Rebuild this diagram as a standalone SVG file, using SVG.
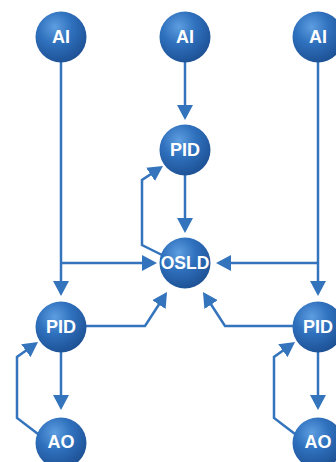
<svg xmlns="http://www.w3.org/2000/svg" width="336" height="462" viewBox="0 0 336 462">
<defs>
<radialGradient id="ball" cx="0.38" cy="0.3" r="0.75">
<stop offset="0" stop-color="#5d9de0"/>
<stop offset="0.45" stop-color="#2f70bd"/>
<stop offset="1" stop-color="#1c4f92"/>
</radialGradient>
<marker id="ah" markerUnits="userSpaceOnUse" markerWidth="16" markerHeight="16" refX="12" refY="8" orient="auto">
<path d="M0,0 L15,8 L0,16 z" fill="#3474bd"/>
</marker>
<style>
.c{fill:url(#ball)}
.t{font-family:"Liberation Sans",Arial,sans-serif;font-weight:bold;font-size:18px;fill:#fff;text-anchor:middle}
.l{fill:none;stroke:#3474bd;stroke-width:2.5;marker-end:url(#ah)}
</style>
</defs>
<rect width="336" height="462" fill="#fff"/>
<g id="connectors">
<path class="l" d="M61,60 V293"/>
<path class="l" d="M61,263 H154"/>
<path class="l" d="M185,60 V117"/>
<path class="l" d="M185,173 V230"/>
<path class="l" d="M318,60 V293"/>
<path class="l" d="M318,263 H219"/>
<path class="l" d="M61,350 V407"/>
<path class="l" d="M318,350 V407"/>
<path class="l" d="M164,256 L142,245 L142,180 L160.5,167.7"/>
<path class="l" d="M84,326 L145,326 L165.4,294.5"/>
<path class="l" d="M295,326 L225,326 L204.6,294.5"/>
<path class="l" d="M38,434 L17,418 L17,357 L35.6,343.7"/>
<path class="l" d="M295,434 L274,418 L274,357 L292.6,343.7"/>
</g>
<g id="ai-left"><circle class="c" cx="61" cy="37" r="25.5"/><text class="t" x="61" y="43">AI</text></g>
<g id="ai-mid"><circle class="c" cx="185" cy="37" r="25.5"/><text class="t" x="185" y="43">AI</text></g>
<g id="ai-right"><circle class="c" cx="318" cy="37" r="25.5"/><text class="t" x="318" y="43">AI</text></g>
<g id="pid-mid"><circle class="c" cx="185" cy="150" r="25.5"/><text class="t" x="185" y="156">PID</text></g>
<g id="osld"><circle class="c" cx="185" cy="263" r="25.5"/><text class="t" x="185" y="269" style="font-size:17.5px">OSLD</text></g>
<g id="pid-left"><circle class="c" cx="61" cy="327" r="25.5"/><text class="t" x="61" y="333">PID</text></g>
<g id="pid-right"><circle class="c" cx="318" cy="327" r="25.5"/><text class="t" x="318" y="333">PID</text></g>
<g id="ao-left"><circle class="c" cx="61" cy="443" r="25.5"/><text class="t" x="61" y="448">AO</text></g>
<g id="ao-right"><circle class="c" cx="318" cy="443" r="25.5"/><text class="t" x="318" y="448">AO</text></g>
</svg>
